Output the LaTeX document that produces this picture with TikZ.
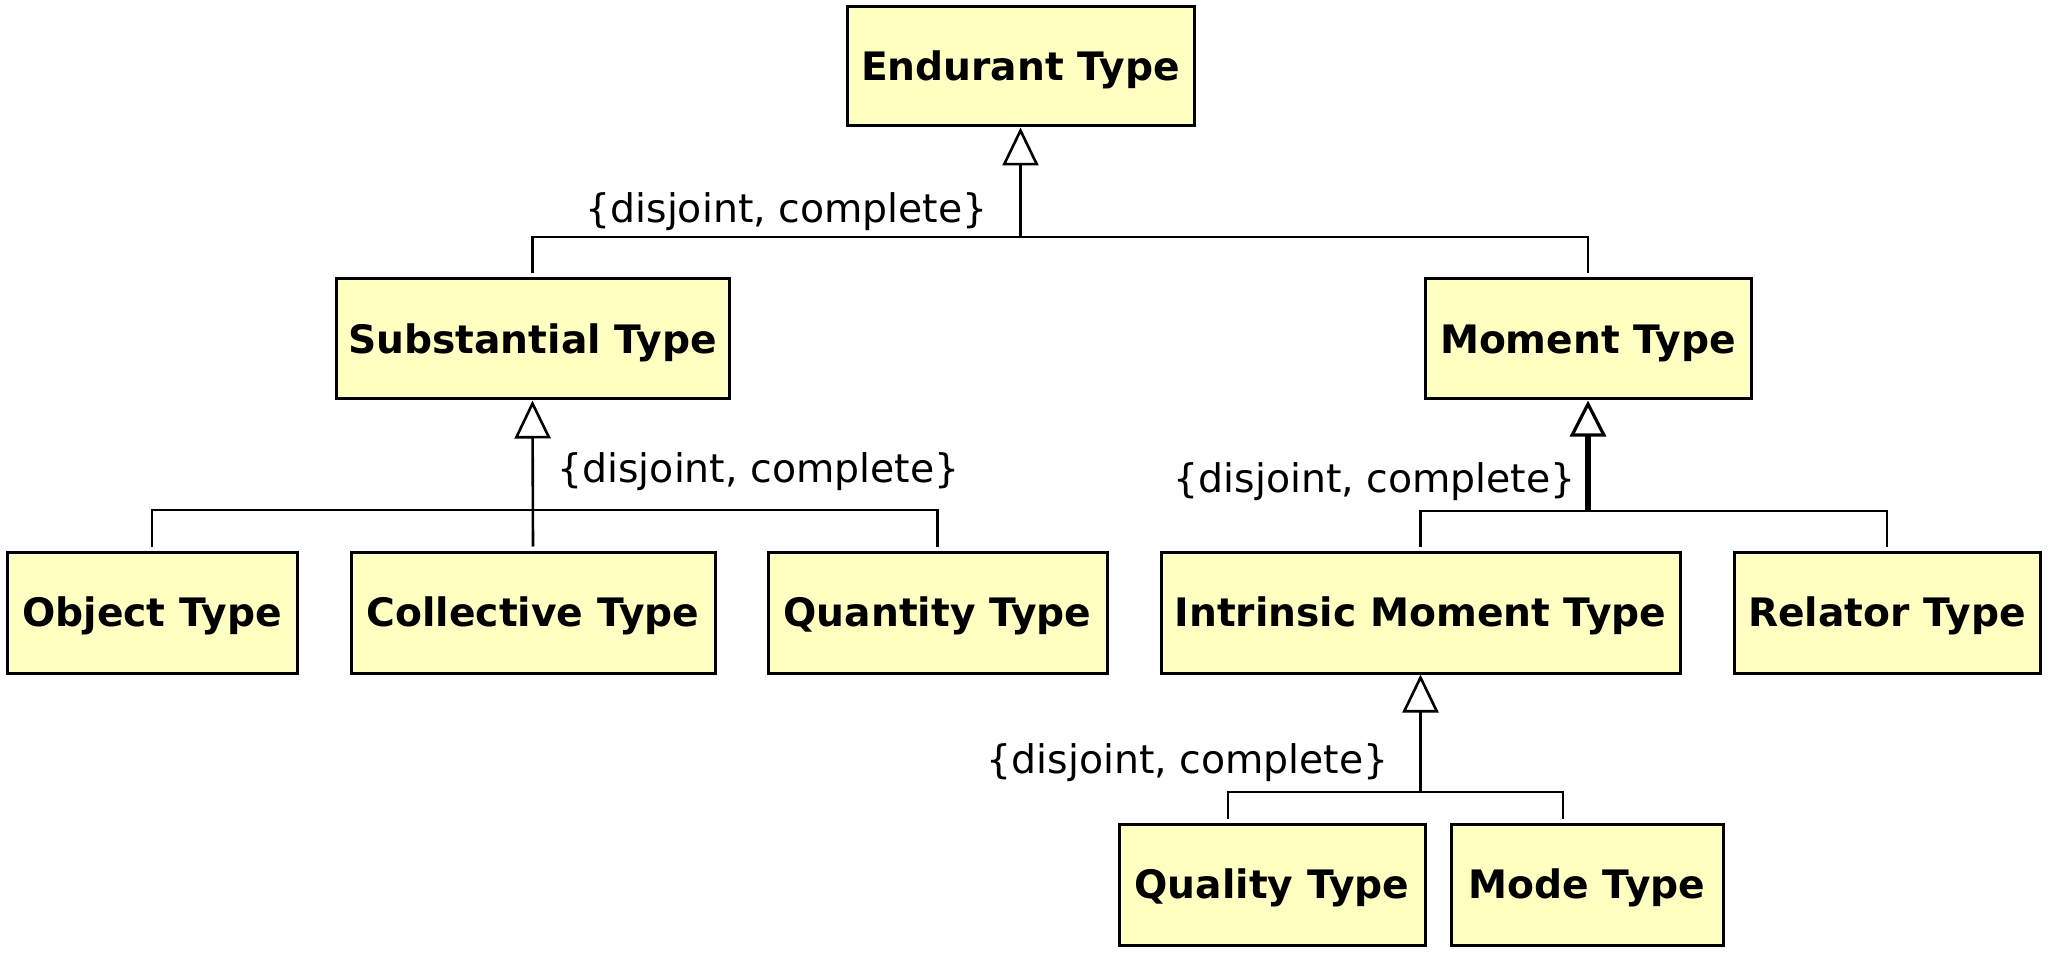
\documentclass[tikz,border=0pt]{standalone}
\usepackage{fontspec}
\setmainfont{DejaVu Sans}
\usetikzlibrary{arrows.meta}
\definecolor{boxfill}{RGB}{255,255,194}
\begin{document}
\begin{tikzpicture}[x=0.5pt,y=-0.5pt,
  cls/.style={draw, line width=1.5pt, fill=boxfill, inner sep=0pt,
    font=\fontsize{19.6}{23}\selectfont\bfseries, text height=14.2pt, text depth=0pt},
  lbl/.style={inner sep=0pt, font=\fontsize{19.7}{23}\selectfont},
  conn/.style={line width=1.3pt},
  gen/.style={line width=1.3pt, -{Triangle[open, length=19pt, width=18pt, line width=1.3pt]}},
  thickgen/.style={line width=3pt, -{Triangle[open, length=18pt, width=18pt, line width=1.6pt]}},
]
\useasboundingbox (0,0) rectangle (2052,957);
% classes
\node[cls, minimum width=173.5pt, minimum height=59.5pt] (end) at (1020.5,66.5) {Endurant Type};
\node[cls, minimum width=196.5pt, minimum height=60pt] (sub) at (532.5,339) {Substantial Type};
\node[cls, minimum width=163pt, minimum height=60pt] (mom) at (1588,339) {Moment Type};
\node[cls, minimum width=145pt, minimum height=60.5pt] (obj) at (152,612.5) {Object Type};
\node[cls, minimum width=182pt, minimum height=60.5pt] (col) at (533,612.5) {Collective Type};
\node[cls, minimum width=169.5pt, minimum height=60.5pt] (qua) at (937.5,612.5) {Quantity Type};
\node[cls, minimum width=259.5pt, minimum height=60.5pt] (int) at (1420.5,612.5) {Intrinsic Moment Type};
\node[cls, minimum width=153pt, minimum height=60.5pt] (rel) at (1887,612.5) {Relator Type};
\node[cls, minimum width=153pt, minimum height=60.5pt] (qlt) at (1272,884.5) {Quality Type};
\node[cls, minimum width=136pt, minimum height=60.5pt] (mod) at (1587,884.5) {Mode Type};
% labels
\node[lbl, anchor=base east] (l1) at (988,223) {\{disjoint, complete\}};
\node[lbl, anchor=base west] (l2) at (557,482) {\{disjoint, complete\}};
\node[lbl, anchor=base east] (l3) at (1576,492) {\{disjoint, complete\}};
\node[lbl, anchor=base east] (l4) at (1389,773) {\{disjoint, complete\}};
% generalization set 1
\coordinate (j1) at (1020.5,237);
\draw[gen] (j1) -- (end.south);
\draw[conn] ([yshift=2pt]sub.north) -- (sub.north |- j1) -- (mom.north |- j1) -- ([yshift=2pt]mom.north);
% generalization set 2
\coordinate (j2) at (532.5,510);
\draw[gen] ([yshift=2pt]col.north) -- (sub.south);
\draw[conn] ([yshift=2pt]obj.north) -- (obj.north |- j2) -- (qua.north |- j2) -- ([yshift=2pt]qua.north);
% generalization set 3
\coordinate (j3) at (1588,511);
\draw[thickgen] (j3) -- (mom.south);
\draw[conn] ([yshift=2pt]int.north) -- (int.north |- j3) -- (rel.north |- j3) -- ([yshift=2pt]rel.north);
% generalization set 4
\coordinate (j4) at (1420.5,792);
\coordinate (q1) at (1228,792);
\coordinate (q2) at (1563,792);
\draw[gen] (j4) -- (int.south);
\draw[conn] ([yshift=2pt]q1 |- qlt.north) -- (q1) -- (q2) -- ([yshift=2pt]q2 |- mod.north);
\end{tikzpicture}
\end{document}
